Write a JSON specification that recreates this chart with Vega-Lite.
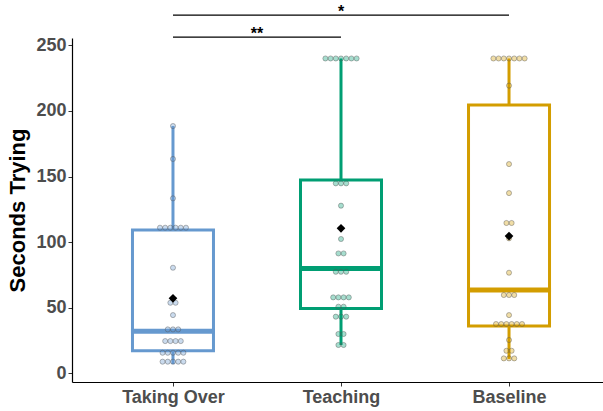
{
  "$schema": "https://vega.github.io/schema/vega-lite/v6.json",
  "width": 538,
  "height": 344,
  "autosize": {"type": "none"},
  "padding": {"left": 72, "top": 38, "right": 0, "bottom": 29},
  "background": "white",
  "config": {
    "view": {"stroke": null},
    "font": "Liberation Sans",
    "axis": {
      "grid": false,
      "domainColor": "#000000",
      "domainWidth": 1.2,
      "tickColor": "#333333",
      "tickSize": 4,
      "tickWidth": 1,
      "labelColor": "#4D4D4D",
      "labelFont": "Liberation Sans",
      "labelFontSize": 18,
      "labelFontWeight": "bold",
      "labelPadding": 2,
      "titleFont": "Liberation Sans",
      "titleFontSize": 22,
      "titleFontWeight": "bold",
      "titleColor": "#000000"
    }
  },
  "datasets": {
    "dots": [
      {"group": "Taking Over", "seconds": 188.5},
      {"group": "Taking Over", "seconds": 163.4},
      {"group": "Taking Over", "seconds": 133.4},
      {"group": "Taking Over", "seconds": 111},
      {"group": "Taking Over", "seconds": 111},
      {"group": "Taking Over", "seconds": 111},
      {"group": "Taking Over", "seconds": 111},
      {"group": "Taking Over", "seconds": 111},
      {"group": "Taking Over", "seconds": 111},
      {"group": "Taking Over", "seconds": 80.5},
      {"group": "Taking Over", "seconds": 53.8},
      {"group": "Taking Over", "seconds": 53.8},
      {"group": "Taking Over", "seconds": 44.4},
      {"group": "Taking Over", "seconds": 33.5},
      {"group": "Taking Over", "seconds": 33.5},
      {"group": "Taking Over", "seconds": 33.5},
      {"group": "Taking Over", "seconds": 24.6},
      {"group": "Taking Over", "seconds": 24.6},
      {"group": "Taking Over", "seconds": 24.6},
      {"group": "Taking Over", "seconds": 24.6},
      {"group": "Taking Over", "seconds": 15.7},
      {"group": "Taking Over", "seconds": 15.7},
      {"group": "Taking Over", "seconds": 15.7},
      {"group": "Taking Over", "seconds": 15.7},
      {"group": "Taking Over", "seconds": 15.7},
      {"group": "Taking Over", "seconds": 8.9},
      {"group": "Taking Over", "seconds": 8.9},
      {"group": "Taking Over", "seconds": 8.9},
      {"group": "Taking Over", "seconds": 8.9},
      {"group": "Taking Over", "seconds": 8.9},
      {"group": "Teaching", "seconds": 240},
      {"group": "Teaching", "seconds": 240},
      {"group": "Teaching", "seconds": 240},
      {"group": "Teaching", "seconds": 240},
      {"group": "Teaching", "seconds": 240},
      {"group": "Teaching", "seconds": 240},
      {"group": "Teaching", "seconds": 240},
      {"group": "Teaching", "seconds": 144.8},
      {"group": "Teaching", "seconds": 144.8},
      {"group": "Teaching", "seconds": 144.8},
      {"group": "Teaching", "seconds": 127.8},
      {"group": "Teaching", "seconds": 102.4},
      {"group": "Teaching", "seconds": 91.4},
      {"group": "Teaching", "seconds": 91.4},
      {"group": "Teaching", "seconds": 77.4},
      {"group": "Teaching", "seconds": 77.4},
      {"group": "Teaching", "seconds": 77.4},
      {"group": "Teaching", "seconds": 57.9},
      {"group": "Teaching", "seconds": 57.9},
      {"group": "Teaching", "seconds": 57.9},
      {"group": "Teaching", "seconds": 57.9},
      {"group": "Teaching", "seconds": 50.8},
      {"group": "Teaching", "seconds": 50.8},
      {"group": "Teaching", "seconds": 43.2},
      {"group": "Teaching", "seconds": 43.2},
      {"group": "Teaching", "seconds": 43.2},
      {"group": "Teaching", "seconds": 30},
      {"group": "Teaching", "seconds": 30},
      {"group": "Teaching", "seconds": 21.6},
      {"group": "Teaching", "seconds": 21.6},
      {"group": "Baseline", "seconds": 240},
      {"group": "Baseline", "seconds": 240},
      {"group": "Baseline", "seconds": 240},
      {"group": "Baseline", "seconds": 240},
      {"group": "Baseline", "seconds": 240},
      {"group": "Baseline", "seconds": 240},
      {"group": "Baseline", "seconds": 240},
      {"group": "Baseline", "seconds": 219.3},
      {"group": "Baseline", "seconds": 159.5},
      {"group": "Baseline", "seconds": 137.4},
      {"group": "Baseline", "seconds": 114.6},
      {"group": "Baseline", "seconds": 114.6},
      {"group": "Baseline", "seconds": 102.9},
      {"group": "Baseline", "seconds": 76.7},
      {"group": "Baseline", "seconds": 59.7},
      {"group": "Baseline", "seconds": 59.7},
      {"group": "Baseline", "seconds": 59.7},
      {"group": "Baseline", "seconds": 44.4},
      {"group": "Baseline", "seconds": 37.6},
      {"group": "Baseline", "seconds": 37.6},
      {"group": "Baseline", "seconds": 37.6},
      {"group": "Baseline", "seconds": 37.6},
      {"group": "Baseline", "seconds": 37.6},
      {"group": "Baseline", "seconds": 37.6},
      {"group": "Baseline", "seconds": 25.4},
      {"group": "Baseline", "seconds": 17.2},
      {"group": "Baseline", "seconds": 17.2},
      {"group": "Baseline", "seconds": 11.4},
      {"group": "Baseline", "seconds": 11.4},
      {"group": "Baseline", "seconds": 11.4}
    ],
    "stats": [
      {"group": "Taking Over", "lower": 7, "q1": 17.2, "median": 32, "q3": 109.2, "upper": 188.5, "mean": 57.2},
      {"group": "Teaching", "lower": 21.6, "q1": 49.5, "median": 80, "q3": 147.3, "upper": 240, "mean": 110.5},
      {"group": "Baseline", "lower": 11, "q1": 36, "median": 63.5, "q3": 204.5, "upper": 240, "mean": 104.6}
    ],
    "sig": [
      {"from": 1, "to": 2, "mid": 1.5, "level": 256.3, "label": "**"},
      {"from": 1, "to": 3, "mid": 2, "level": 273.1, "label": "*"}
    ]
  },
  "resolve": {"scale": {"x": "independent"}},
  "layer": [
    {
      "layer": [
        {
          "data": {"name": "stats"},
          "mark": {"type": "rule", "strokeWidth": 3},
          "encoding": {
            "x": {"field": "group", "type": "nominal", "sort": ["Taking Over", "Teaching", "Baseline"], "scale": {"type": "point", "padding": 0.601}, "axis": {"title": null, "labelAngle": 0}},
            "y": {"field": "q3", "type": "quantitative", "title": "Seconds Trying", "scale": {"domain": [-6.6, 255.6], "nice": false, "zero": false}, "axis": {"values": [0, 50, 100, 150, 200, 250], "titlePadding": 6}},
            "y2": {"field": "upper"},
            "color": {"field": "group", "type": "nominal", "scale": {"domain": ["Taking Over", "Teaching", "Baseline"], "range": ["#6699CF", "#009E73", "#D39D00"]}, "legend": null}
          }
        },
        {
          "data": {"name": "stats"},
          "mark": {"type": "rule", "strokeWidth": 3},
          "encoding": {
            "x": {"field": "group", "type": "nominal", "sort": ["Taking Over", "Teaching", "Baseline"]},
            "y": {"field": "lower", "type": "quantitative", "title": "Seconds Trying"},
            "y2": {"field": "q1"},
            "color": {"field": "group", "type": "nominal", "legend": null}
          }
        },
        {
          "data": {"name": "stats"},
          "mark": {"type": "bar", "width": 81, "fill": "white", "strokeWidth": 3},
          "encoding": {
            "x": {"field": "group", "type": "nominal", "sort": ["Taking Over", "Teaching", "Baseline"]},
            "y": {"field": "q1", "type": "quantitative", "title": "Seconds Trying"},
            "y2": {"field": "q3"},
            "stroke": {"field": "group", "type": "nominal", "scale": {"domain": ["Taking Over", "Teaching", "Baseline"], "range": ["#6699CF", "#009E73", "#D39D00"]}, "legend": null}
          }
        },
        {
          "data": {"name": "stats"},
          "mark": {"type": "tick", "size": 84, "thickness": 5, "opacity": 1},
          "encoding": {
            "x": {"field": "group", "type": "nominal", "sort": ["Taking Over", "Teaching", "Baseline"]},
            "y": {"field": "median", "type": "quantitative", "title": "Seconds Trying"},
            "color": {"field": "group", "type": "nominal", "legend": null}
          }
        },
        {
          "data": {"name": "dots"},
          "transform": [
            {"window": [{"op": "row_number", "as": "rank"}], "groupby": ["group", "seconds"]},
            {"joinaggregate": [{"op": "count", "as": "n"}], "groupby": ["group", "seconds"]},
            {"calculate": "datum.rank - (datum.n + 1) / 2", "as": "off"}
          ],
          "mark": {"type": "point", "filled": true, "size": 26, "fillOpacity": 0.35, "stroke": "#555555", "strokeOpacity": 0.6, "strokeWidth": 0.7},
          "encoding": {
            "x": {"field": "group", "type": "nominal", "sort": ["Taking Over", "Teaching", "Baseline"]},
            "xOffset": {"field": "off", "type": "quantitative", "scale": {"domain": [-5, 5], "range": [-26, 26]}},
            "y": {"field": "seconds", "type": "quantitative", "title": "Seconds Trying"},
            "fill": {"field": "group", "type": "nominal", "scale": {"domain": ["Taking Over", "Teaching", "Baseline"], "range": ["#6699CF", "#009E73", "#D39D00"]}, "legend": null}
          }
        },
        {
          "data": {"name": "stats"},
          "mark": {"type": "point", "shape": "diamond", "filled": true, "size": 75, "color": "#000000", "opacity": 1},
          "encoding": {
            "x": {"field": "group", "type": "nominal", "sort": ["Taking Over", "Teaching", "Baseline"]},
            "y": {"field": "mean", "type": "quantitative", "title": "Seconds Trying"}
          }
        }
      ]
    },
    {
      "data": {"name": "sig"},
      "layer": [
        {
          "mark": {"type": "rule", "color": "#000000", "strokeWidth": 1.2, "clip": false},
          "encoding": {
            "x": {"field": "from", "type": "quantitative", "scale": {"domain": [0.399, 3.601], "nice": false, "zero": false}, "axis": null},
            "x2": {"field": "to"},
            "y": {"field": "level", "type": "quantitative", "title": "Seconds Trying"}
          }
        },
        {
          "mark": {"type": "text", "fontSize": 16, "fontWeight": "bold", "color": "#000000", "baseline": "alphabetic", "align": "center", "dy": 2, "clip": false},
          "encoding": {
            "x": {"field": "mid", "type": "quantitative", "scale": {"domain": [0.399, 3.601], "nice": false, "zero": false}, "axis": null},
            "y": {"field": "level", "type": "quantitative", "title": "Seconds Trying"},
            "text": {"field": "label"}
          }
        }
      ]
    }
  ]
}
